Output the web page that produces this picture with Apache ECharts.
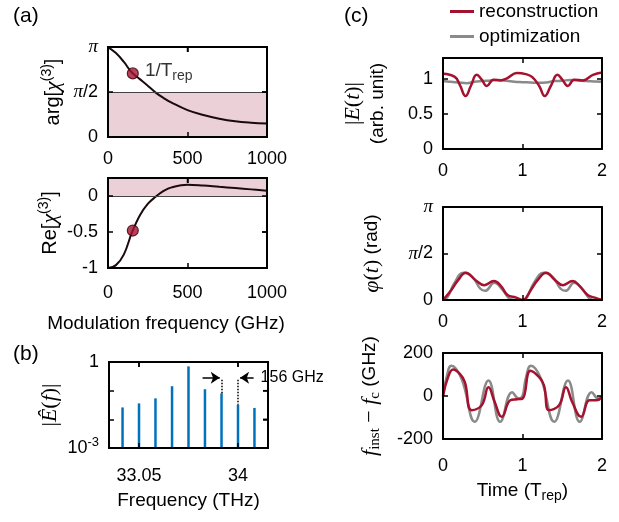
<!DOCTYPE html>
<html>
<head>
<meta charset="utf-8">
<script src="https://cdn.jsdelivr.net/npm/echarts@6/dist/echarts.min.js"></script>
<style>
html, body { margin: 0; padding: 0; background: #fff; }
#main { width: 619px; height: 522px; }
</style>
</head>
<body>
<div id="main"></div>
<script>
var PI = Math.PI;

// (a) response vs modulation frequency (GHz)
var modFreq = [0, 50, 100, 150, 200, 250, 300, 350, 400, 500, 600, 700, 800, 900, 1000];
var argChi = [3.14, 2.93, 2.62, 2.25, 2.02, 1.79, 1.55, 1.36, 1.20, 0.94, 0.77, 0.64, 0.55, 0.50, 0.47];
var reChi = [-1, -0.96, -0.81, -0.51, -0.27, -0.11, -0.01, 0.07, 0.12, 0.157, 0.145, 0.127, 0.11, 0.092, 0.074];
var repRate = 156;
var repArg = 2.22;
var repRe = -0.48;

// (b) comb lines (THz) and amplitudes
var combFreq = [32.892, 33.05, 33.208, 33.367, 33.525, 33.683, 33.842, 34.0, 34.158];
var combAmp = [0.026, 0.036, 0.054, 0.143, 0.705, 0.112, 0.081, 0.032, 0.025];

// tick values mirrored on the top / right side of the left panels, [x tick, y tick]
var argTicks = [[500, PI / 2]];
var reTicks = [[500, -0.5]];
var combTicks = [[33.05, 0.1], [34.0, 0.01]];

// (c) time traces, [t (T_rep), value]
var recAmp = [[0,1.075],[0.148,1.03],[0.21,0.92],[0.284,0.757],[0.35,0.90],[0.424,1.06],[0.487,0.99],[0.55,0.90],
  [0.636,0.99],[0.72,0.98],[0.805,1.01],[0.93,1.084],[1.04,1.07],[1.12,1.03],[1.21,0.90],[1.28,0.757],[1.356,0.90],
  [1.44,1.06],[1.5,0.99],[1.57,0.90],[1.65,0.99],[1.76,0.98],[1.886,1.06],[2,1.093]];
var optAmp = [[0,0.97],[0.1,0.96],[0.2,0.95],[0.3,0.94],[0.4,0.96],[0.5,0.97],[0.6,0.98],[0.7,0.985],[0.8,0.975],
  [0.9,0.96],[1.0,0.955],[1.1,0.95],[1.2,0.945],[1.3,0.95],[1.4,0.97],[1.5,0.975],[1.6,0.985],[1.7,0.98],[1.8,0.97],
  [1.9,0.965],[2,0.96]];
var recPhase = [[0,0],[0.105,0.34],[0.19,0.67],[0.287,0.92],[0.41,0.67],[0.52,0.5],[0.64,0.64],[0.73,0.47],[0.81,0.17],
  [0.92,0.08],[1,0],[1.105,0.34],[1.19,0.67],[1.297,0.92],[1.41,0.67],[1.51,0.5],[1.63,0.64],[1.72,0.47],[1.82,0.17],
  [1.91,0.08],[2,0]];
var optPhase = [[0,0],[0.06,0.11],[0.14,0.56],[0.26,0.92],[0.37,0.78],[0.47,0.38],[0.53,0.31],[0.645,0.58],[0.75,0.34],
  [0.83,0.06],[0.9,0],[1,0],[1.06,0.11],[1.14,0.56],[1.27,0.92],[1.38,0.78],[1.48,0.38],[1.54,0.31],[1.65,0.58],
  [1.76,0.34],[1.84,0.06],[1.9,0],[2,0]];
var recFreq = [[0,0],[0.064,88],[0.127,123],[0.212,103],[0.275,65],[0.36,-66],[0.487,-43],[0.572,41],[0.65,-28],
  [0.74,-97],[0.847,-20],[0.93,-15],[1.0,-12],[1.1,118],[1.21,88],[1.27,50],[1.335,-66],[1.46,-43],[1.547,41],[1.625,-28],
  [1.737,-97],[1.843,-20],[1.93,-20],[2,-5]];
var optFreq = [[0,0],[0.04,80],[0.106,141],[0.233,80],[0.4,-120],[0.572,72],[0.72,-120],[0.87,18],[0.953,-12],[1,0],
  [1.04,80],[1.106,141],[1.233,80],[1.4,-120],[1.572,72],[1.72,-120],[1.87,18],[1.953,-12],[2,0]];

var SANS = 'Liberation Sans', SERIF = 'Liberation Serif';
var RED = '#a4122f', GRAY = '#8a8a8a', BLUE = '#0072bd', PINK = '#ebd1d7';

var chart = echarts.init(document.getElementById('main'));

var grids = [
  {left: 108, top: 47, width: 159, height: 90},
  {left: 108, top: 178, width: 159, height: 90},
  {left: 109, top: 362, width: 159, height: 86},
  {left: 443, top: 58, width: 159, height: 91},
  {left: 443, top: 207, width: 159, height: 93},
  {left: 443, top: 353, width: 159, height: 86}
];

function mathRich() {
  return {
    i: {fontFamily: SERIF, fontStyle: 'italic', fontSize: 22, color: '#000', lineHeight: 26},
    r: {fontFamily: SERIF, fontSize: 22, color: '#000', lineHeight: 26},
    sp: {fontFamily: SANS, fontSize: 14, color: '#000', verticalAlign: 'top', lineHeight: 13},
    sb: {fontFamily: SERIF, fontSize: 15, color: '#000', verticalAlign: 'bottom', lineHeight: 14},
    ss: {fontFamily: SANS, fontSize: 14, color: '#000', verticalAlign: 'bottom', lineHeight: 14}
  };
}
function piRich() {
  return {p: {fontFamily: SERIF, fontStyle: 'italic', fontSize: 19, color: '#000'}};
}
function logRich() {
  return {s: {fontSize: 13, fontFamily: SANS, color: '#000', verticalAlign: 'top', lineHeight: 13}};
}
function piFmt(v) {
  if (v < 0.01) return '0';
  if (Math.abs(v - PI / 2) < 0.01) return '{p|π}/2';
  return '{p|π}';
}
function logFmt(v) {
  var e = Math.round(Math.log10(v));
  if (e === 0) return '1';
  if (e === -3) return '10{s|-3}';
  return '';
}
function plain(v) { return String(v); }

var xCfg = [
  {min: 0, max: 1000, interval: 500, fmt: plain},
  {min: 0, max: 1000, interval: 500, fmt: plain, margin: 13,
    name: 'Modulation frequency (GHz)', gap: 44, pad: [0, 43, 0, 0]},
  {min: 32.762, max: 34.288, ticks: [33.05, 34.0], margin: 16, name: 'Frequency (THz)', gap: 41},
  {min: 0, max: 2, interval: 1},
  {min: 0, max: 2, interval: 1},
  {min: 0, max: 2, interval: 1, margin: 15, name: 'Time (T{ss|rep})', gap: 40}
];
var yCfg = [
  {min: 0, max: PI, ticks: [0, PI / 2, PI], fmt: piFmt, rich: piRich,
    name: 'arg[{i|χ}{sp|(3)}]', gap: 42, size: 20},
  {min: -1, max: 0.25, ticks: [-1, -0.5, 0], name: 'Re[{i|χ}{sp|(3)}]', gap: 42, size: 20},
  {type: 'log', min: 0.001, max: 1, fmt: logFmt, rich: logRich,
    name: '{r||}{i|Ê}{r|(}{i|f}{r|)|}', gap: 34},
  {min: 0, max: 1.3, ticks: [0, 0.5, 1], name: '{r||}{i|E}{r|(}{i|t}{r|)|}\n(arb. unit)', gap: 53},
  {min: 0, max: PI, ticks: [0, PI / 2, PI], fmt: piFmt, rich: piRich, name: '{i|φ}{r|(}{i|t}{r|)} (rad)', gap: 58},
  {min: -200, max: 200, interval: 200, name: '{i|f}{sb|inst}{r| − }{i|f}{sb|c} (GHz)', gap: 60}
];

function ax(gi, pos, cfg, withLabels) {
  var a = {
    gridIndex: gi, position: pos, z: 10,
    type: cfg.type || 'value', min: cfg.min, max: cfg.max,
    axisLine: {show: true, onZero: false, lineStyle: {color: '#000', width: 2}},
    splitLine: {show: false},
    axisTick: {show: true, inside: true, length: 5, lineStyle: {color: '#000', width: 1.5}},
    axisLabel: {show: withLabels, color: '#000', fontFamily: SANS, fontSize: 18, margin: cfg.margin || 10, lineHeight: 24}
  };
  if (cfg.type === 'log') a.logBase = 10;
  if (cfg.interval) a.interval = cfg.interval;
  if (cfg.ticks) {
    a.axisTick.customValues = cfg.ticks.slice();
    a.axisLabel.customValues = cfg.ticks.slice();
  }
  if (cfg.fmt) a.axisLabel.formatter = cfg.fmt;
  if (cfg.rich) a.axisLabel.rich = cfg.rich();
  if (withLabels && cfg.name) {
    a.name = cfg.name;
    a.nameLocation = 'middle';
    a.nameGap = cfg.gap;
    a.nameTextStyle = {color: '#000', fontFamily: SANS, fontSize: cfg.size || 19, lineHeight: 24,
      padding: cfg.pad || 0, rich: mathRich()};
  }
  return a;
}

// each grid gets a labelled axis and a mirrored tick-only axis; main axis of grid g is index 2*g
var xAxes = [], yAxes = [];
for (var i = 0; i < 6; i++) {
  xAxes.push(ax(i, 'bottom', xCfg[i], true));
  xAxes.push(ax(i, 'top', xCfg[i], false));
  yAxes.push(ax(i, 'left', yCfg[i], true));
  yAxes.push(ax(i, 'right', yCfg[i], false));
}

function pairs(xs, ys) {
  return xs.map(function (x, k) { return [x, ys[k]]; });
}

// shaded band of the (a) panels
function band(from, to, at) {
  return {
    markArea: {silent: true, itemStyle: {color: PINK}, data: [[{yAxis: from}, {yAxis: to}]]},
    markLine: {silent: true, symbol: ['none', 'none'], label: {show: false},
      lineStyle: {color: '#444', width: 1, type: 'solid'}, data: [{yAxis: at}]}
  };
}

// frame of a left panel, drawn on top: box from the grid's own rect, inward ticks on top and right
function frame(gi, ticks) {
  return {
    type: 'custom', xAxisIndex: 2 * gi, yAxisIndex: 2 * gi, data: ticks,
    z: 100, clip: false, silent: true,
    renderItem: function (params, api) {
      var cs = params.coordSys;
      var p = api.coord([api.value(0), api.value(1)]);
      var right = cs.x + cs.width;
      var kids = [
        {type: 'line', shape: {x1: p[0], y1: cs.y, x2: p[0], y2: cs.y + 5},
          style: {stroke: '#000', lineWidth: 1.5}},
        {type: 'line', shape: {x1: right - 5, y1: p[1], x2: right, y2: p[1]},
          style: {stroke: '#000', lineWidth: 1.5}}
      ];
      if (params.dataIndex === 0) {
        kids.push({type: 'rect', shape: {x: cs.x, y: cs.y, width: cs.width, height: cs.height},
          style: {fill: 'none', stroke: '#000', lineWidth: 2}});
      }
      return {type: 'group', children: kids};
    }
  };
}

function trace(data, gi, color) {
  return {
    type: 'line', xAxisIndex: 2 * gi, yAxisIndex: 2 * gi, data: data,
    smooth: 0.45, symbol: 'none',
    lineStyle: {color: color, width: 2.5}, itemStyle: {color: color}
  };
}

var argLine = Object.assign({
  type: 'line', xAxisIndex: 0, yAxisIndex: 0, data: pairs(modFreq, argChi),
  smooth: 0.4, symbol: 'none', lineStyle: {color: '#1a0a0e', width: 2}
}, band(0, PI / 2, PI / 2));
var reLine = Object.assign({
  type: 'line', xAxisIndex: 2, yAxisIndex: 2, data: pairs(modFreq, reChi),
  smooth: 0.4, symbol: 'none', lineStyle: {color: '#1a0a0e', width: 2}
}, band(0, 0.25, 0));

// panel letters and the key for panel (c)
function tag(text, left, top, rich) {
  return {text: text, left: left, top: top, padding: 0,
    textStyle: {color: '#000', fontFamily: SANS, fontSize: 21, fontWeight: 'normal', rich: rich}};
}
function keyRich(color) {
  return {
    k: {width: 24, height: 3, backgroundColor: color},
    t: {fontFamily: SANS, fontSize: 19, color: '#000', padding: [0, 0, 0, 5]}
  };
}

var option = {
  animation: false,
  title: [
    tag('(a)', 13, 6),
    tag('(b)', 13, 344),
    tag('(c)', 344, 6),
    tag('{k|}{t|reconstruction}', 450, 2, keyRich(RED)),
    tag('{k|}{t|optimization}', 450, 27, keyRich(GRAY))
  ],
  grid: grids,
  xAxis: xAxes,
  yAxis: yAxes,
  series: [
    argLine,
    {
      type: 'scatter', xAxisIndex: 0, yAxisIndex: 0, data: [[repRate, repArg]],
      symbolSize: 11, itemStyle: {color: RED, borderColor: '#3d0010', borderWidth: 1.2}, z: 5,
      label: {
        show: true, position: 'right', distance: 6, formatter: '1/T{s|rep}',
        color: '#000', fontFamily: SANS, fontSize: 19, lineHeight: 26, offset: [0, -3],
        rich: {s: {fontFamily: SANS, fontSize: 14, color: '#000', verticalAlign: 'bottom', lineHeight: 14}}
      }
    },
    reLine,
    {
      type: 'scatter', xAxisIndex: 2, yAxisIndex: 2, data: [[repRate, repRe]],
      symbolSize: 11, itemStyle: {color: RED, borderColor: '#3d0010', borderWidth: 1.2}, z: 5
    },
    {
      type: 'custom', xAxisIndex: 4, yAxisIndex: 4, data: pairs(combFreq, combAmp),
      encode: {x: 0, y: 1}, clip: true,
      renderItem: function (params, api) {
        var top = api.coord([api.value(0), api.value(1)]);
        var base = api.coord([api.value(0), 0.001]);
        return {type: 'line', shape: {x1: top[0], y1: base[1], x2: top[0], y2: top[1]},
          style: {stroke: BLUE, lineWidth: 2.5}};
      },
      markLine: {
        silent: true, symbol: ['none', 'none'], symbolSize: 9,
        label: {show: false},
        lineStyle: {color: '#000', width: 1.5, type: 'solid'},
        data: [
          [{coord: [33.842, 0.24], lineStyle: {type: 'dotted'}}, {coord: [33.842, 0.081]}],
          [{coord: [34.0, 0.24], lineStyle: {type: 'dotted'}}, {coord: [34.0, 0.032]}],
          [{coord: [33.66, 0.28]}, {coord: [33.825, 0.28], symbol: 'arrow'}],
          [{coord: [34.15, 0.28],
            label: {show: true, position: 'start', distance: 7, formatter: '156 GHz',
              color: '#000', fontFamily: SANS, fontSize: 16}},
           {coord: [34.02, 0.28], symbol: 'arrow'}]
        ]
      }
    },
    trace(optAmp, 3, GRAY),
    trace(recAmp, 3, RED),
    trace(optPhase, 4, GRAY),
    trace(recPhase, 4, RED),
    trace(optFreq, 5, GRAY),
    trace(recFreq, 5, RED),
    frame(0, argTicks),
    frame(1, reTicks),
    frame(2, combTicks)
  ]
};

chart.setOption(option);
</script>
</body>
</html>
